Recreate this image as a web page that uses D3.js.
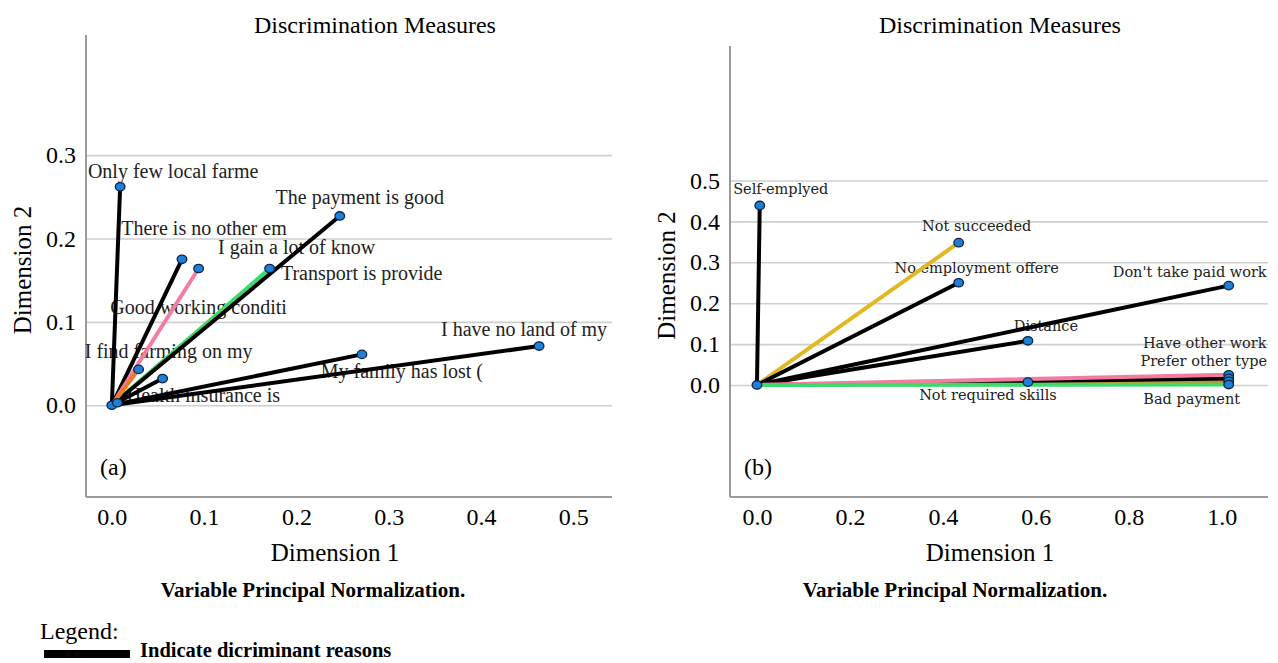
<!DOCTYPE html>
<html>
<head>
<meta charset="utf-8">
<script src="https://cdn.jsdelivr.net/npm/d3@7"></script>
<style>
  html, body { margin: 0; padding: 0; background: #fff; }
  svg { display: block; }
</style>
</head>
<body>
<svg id="chart" width="1278" height="663"></svg>
<script>
// ---------------- DATA ----------------
// Panel (a)
const categoriesA = ["Only few local farme", "There is no other em", "I gain a lot of know",
  "The payment is good", "Transport is provide", "Good working conditi", "I find farming on my",
  "I have no land of my", "My family has lost (", "Health insurance is"];
const dim1A = [0.009, 0.076, 0.094, 0.247, 0.171, 0.055, 0.029, 0.463, 0.271, 0.006];
const dim2A = [0.262, 0.175, 0.164, 0.227, 0.164, 0.032, 0.043, 0.071, 0.061, 0.003];
const xTicksA = [0.0, 0.1, 0.2, 0.3, 0.4, 0.5];
const yTicksA = [0.0, 0.1, 0.2, 0.3];

// Panel (b)
const categoriesB = ["Self-emplyed", "Not succeeded", "No employment offere", "Don't take paid work",
  "Distance", "Have other work", "Prefer other type", "Not required skills", "", "Bad payment"];
const dim1B = [0.006, 0.434, 0.434, 1.015, 0.583, 1.015, 1.015, 0.583, 1.015, 1.015];
const dim2B = [0.439, 0.348, 0.250, 0.243, 0.108, 0.025, 0.016, 0.007, 0.009, 0.001];
const xTicksB = [0.0, 0.2, 0.4, 0.6, 0.8, 1.0];
const yTicksB = [0.0, 0.1, 0.2, 0.3, 0.4, 0.5];

// ---------------- STYLE / LAYOUT ----------------
const lineColorsA = ["#000", "#000", "#f47ca3", "#000", "#3ddc6a", "#000", "#f07a22", "#000", "#000", "#000"];
const lineColorsB = ["#000", "#e2b722", "#000", "#000", "#000", "#f47ca3", "#000", "#000", "#f07a22", "#3ddc6a"];
// drawing order of the lines (indices)
const drawOrderA = [4, 0, 1, 3, 5, 7, 8, 9, 2, 6];
const drawOrderB = [8, 0, 1, 2, 3, 4, 6, 7, 5, 9];
// label offsets from point (pixels): [dx (center), dy (baseline)]
const labelOffA = [[53, -9], [22, -24], [98, -15], [20, -12], [92, 11], [36, -65], [30, -11], [-15, -10], [40, 24], [86, -1]];
const labelOffB = [[21, -11], [18, -12], [18, -10], [-39, -9], [18, -10], [-24, -27], [-25, -12], [-40, 18], [0, 0], [-37, 19]];

const svg = d3.select("#chart");
svg.append("rect").attr("width", 1278).attr("height", 663).attr("fill", "#fff");

const serif = "'Liberation Serif', 'Times New Roman', serif";

function drawPanel(cfg) {
  const { x0, x1, y0, y1, xDomain, yDomain, d1, d2, cats, colors, offs, order, xTicks, yTicks, labelFont, labelSize, title, titleX, tag } = cfg;
  const x = d3.scaleLinear().domain(xDomain).range([x0, x1]);
  const y = d3.scaleLinear().domain(yDomain).range([y1, y0]);
  const g = svg.append("g");

  // gridlines
  g.append("g")
    .attr("transform", `translate(${x0},0)`)
    .call(d3.axisLeft(y).tickValues(yTicks).tickSize(-(x1 - x0)).tickFormat(""))
    .call(s => s.select(".domain").remove())
    .call(s => s.selectAll("line").attr("stroke", "#cfcfcf").attr("stroke-width", 1.6));

  // y tick labels
  g.append("g")
    .attr("transform", `translate(${x0},0)`)
    .call(d3.axisLeft(y).tickValues(yTicks).tickSize(0).tickPadding(10).tickFormat(d3.format(".1f")))
    .call(s => s.select(".domain").remove())
    .call(s => s.selectAll("text").attr("font-family", serif).attr("font-size", 24).attr("fill", "#000"));

  // x tick labels
  g.append("g")
    .attr("transform", `translate(0,${y1})`)
    .call(d3.axisBottom(x).tickValues(xTicks).tickSize(0).tickPadding(11).tickFormat(d3.format(".1f")))
    .call(s => s.select(".domain").remove())
    .call(s => s.selectAll("text").attr("font-family", serif).attr("font-size", 24).attr("fill", "#000"));

  // frame lines
  g.append("line").attr("x1", x0).attr("x2", x0).attr("y1", y0).attr("y2", y1)
    .attr("stroke", "#9a9a9a").attr("stroke-width", 2);
  g.append("line").attr("x1", x0).attr("x2", x1).attr("y1", y1).attr("y2", y1)
    .attr("stroke", "#9a9a9a").attr("stroke-width", 2);

  const items = cats.map((c, i) => ({ c, a: d1[i], b: d2[i], col: colors[i], off: offs[i] }));

  // labels (drawn below lines)
  g.append("g").selectAll("text").data(items.filter(d => d.c !== "")).join("text")
    .attr("x", d => x(d.a) + d.off[0])
    .attr("y", d => y(d.b) + d.off[1])
    .attr("text-anchor", "middle")
    .attr("font-family", labelFont)
    .attr("font-size", labelSize)
    .attr("fill", "#222")
    .text(d => d.c);

  // lines
  g.append("g").selectAll("line").data(order.map(i => items[i])).join("line")
    .attr("x1", x(0)).attr("y1", y(0))
    .attr("x2", d => x(d.a)).attr("y2", d => y(d.b))
    .attr("stroke", d => d.col)
    .attr("stroke-width", 4)
    .attr("stroke-linecap", "round");

  // markers
  const pts = [{ a: 0, b: 0 }].concat(items);
  g.append("g").selectAll("ellipse").data(pts).join("ellipse")
    .attr("cx", d => x(d.a)).attr("cy", d => y(d.b))
    .attr("rx", 4.8).attr("ry", 4.2)
    .attr("fill", "#1f7fd6")
    .attr("stroke", "#0b2547")
    .attr("stroke-width", 1.3);

  // title
  svg.append("text").attr("x", titleX).attr("y", 33).attr("text-anchor", "middle")
    .attr("font-family", serif).attr("font-size", 24).attr("fill", "#000")
    .text(title);

  // axis titles
  const xc = (x0 + x1) / 2;
  svg.append("text").attr("x", xc + cfg.xTitleShift).attr("y", 561).attr("text-anchor", "middle")
    .attr("font-family", serif).attr("font-size", 25).attr("fill", "#000").text("Dimension 1");
  svg.append("text").attr("x", xc + cfg.noteShift).attr("y", 597).attr("text-anchor", "middle")
    .attr("font-family", serif).attr("font-size", 21).attr("font-weight", "bold").attr("fill", "#000")
    .text("Variable Principal Normalization.");
  svg.append("text")
    .attr("transform", `translate(${x0 - 55},${(y0 + y1) / 2 + 4}) rotate(-90)`)
    .attr("text-anchor", "middle")
    .attr("font-family", serif).attr("font-size", 25).attr("fill", "#000").text("Dimension 2");

  // panel tag
  svg.append("text").attr("x", x0 + 14).attr("y", 475)
    .attr("font-family", serif).attr("font-size", 24).attr("fill", "#000").text(tag);
}

drawPanel({
  x0: 86, x1: 612, y0: 35, y1: 497,
  xDomain: [-0.028, 0.542], yDomain: [-0.11, 0.444],
  d1: dim1A, d2: dim2A, cats: categoriesA, colors: lineColorsA, offs: labelOffA, order: drawOrderA,
  xTicks: xTicksA, yTicks: yTicksA,
  labelFont: serif, labelSize: 20,
  title: "Discrimination Measures", titleX: 375, tag: "(a)",
  xTitleShift: -14, noteShift: -36
});

drawPanel({
  x0: 730, x1: 1268, y0: 46, y1: 497,
  xDomain: [-0.058, 1.0995], yDomain: [-0.274, 0.829],
  d1: dim1B, d2: dim2B, cats: categoriesB, colors: lineColorsB, offs: labelOffB, order: drawOrderB,
  xTicks: xTicksB, yTicks: yTicksB,
  labelFont: "'DejaVu Serif', serif", labelSize: 14.5,
  title: "Discrimination Measures", titleX: 1000, tag: "(b)",
  xTitleShift: -9, noteShift: -44
});

// legend
svg.append("text").attr("x", 40).attr("y", 639)
  .attr("font-family", serif).attr("font-size", 24).attr("fill", "#000").text("Legend:");
svg.append("rect").attr("x", 44).attr("y", 650).attr("width", 86).attr("height", 8).attr("fill", "#000");
svg.append("text").attr("x", 140).attr("y", 657)
  .attr("font-family", serif).attr("font-size", 20.5).attr("font-weight", "bold").attr("fill", "#000")
  .text("Indicate dicriminant reasons");
</script>
</body>
</html>
